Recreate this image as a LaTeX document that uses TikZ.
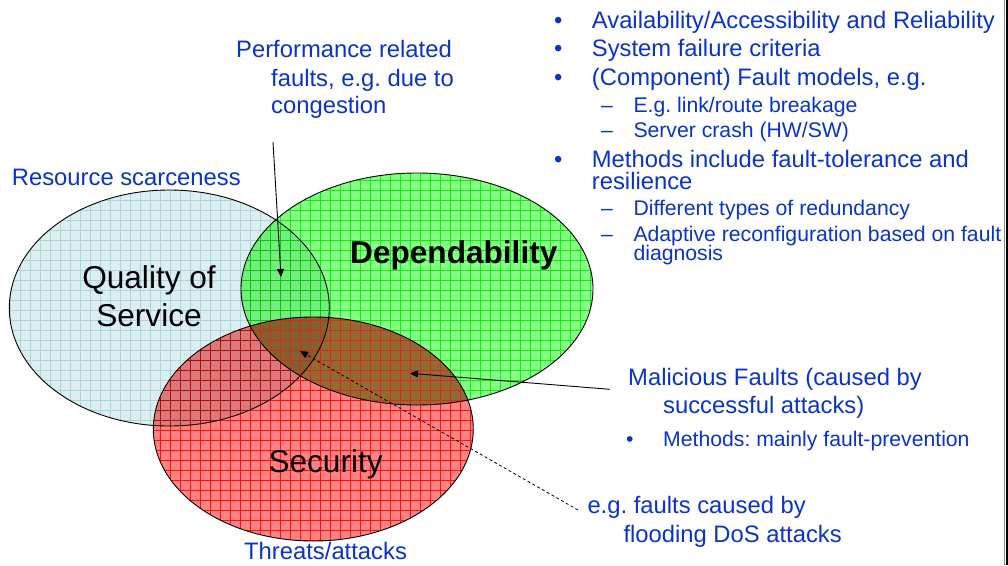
\documentclass[tikz,border=0pt]{standalone}
\usepackage{fontspec}
\setmainfont{Liberation Sans}
\usetikzlibrary{arrows.meta}

\definecolor{txtblue}{RGB}{10,50,205}
\definecolor{qosfill}{RGB}{220,238,240}
\definecolor{qosgrid}{RGB}{198,229,233}
\definecolor{depfill}{RGB}{132,255,132}
\definecolor{depgrid}{RGB}{40,235,40}
\definecolor{secfill}{RGB}{255,130,130}
\definecolor{secgrid}{RGB}{255,35,35}
\definecolor{brownfill}{RGB}{146,106,50}
\definecolor{browndark}{RGB}{132,96,46}
\definecolor{browngrid}{RGB}{210,45,30}

\tikzset{
  main/.style={text=txtblue, inner sep=0pt, anchor=base west,
    font=\fontsize{23.8pt}{28pt}\selectfont},
  subtxt/.style={text=txtblue, inner sep=0pt, anchor=base west,
    font=\fontsize{21.2pt}{25pt}\selectfont},
  big/.style={text=black, inner sep=0pt, anchor=base west,
    font=\fontsize{31.6pt}{38pt}\selectfont},
  outline/.style={draw=black, line width=0.9pt},
  conn/.style={draw=black, line width=0.9pt,
    -{Triangle[length=8pt,width=7pt]}},
  dashconn/.style={draw=black, line width=0.8pt, dash pattern=on 3pt off 2.5pt,
    -{Triangle[length=8pt,width=7pt]}},
  gridlines/.style={line width=0.75pt},
  qosshape/.style={x radius=160pt, y radius=118pt},
  depshape/.style={x radius=176pt, y radius=116pt},
  secshape/.style={x radius=160pt, y radius=112pt}
}

\begin{document}
\frenchspacing
\begin{tikzpicture}[x=1pt,y=-1pt]
\useasboundingbox (0,0) rectangle (1008,565);
\fill[white] (0,0) rectangle (1008,565);

% ellipse centres
\coordinate (qosc) at (169.3,308);
\coordinate (depc) at (417,289);
\coordinate (secc) at (313.3,429);

% the three overlapping areas, blended so that overlaps darken
\begin{scope}[blend mode=multiply]
  % Quality of Service
  \begin{scope}
    \clip (qosc) ellipse [qosshape];
    \fill[qosfill] (0,180) rectangle (340,440);
    \draw[qosgrid, gridlines, step=10pt] (0,180) grid (340,440);
  \end{scope}
  % Dependability
  \begin{scope}
    \clip (depc) ellipse [depshape];
    \fill[depfill] (230,160) rectangle (600,410);
    \draw[depgrid, gridlines, step=10pt] (230,160) grid (600,410);
  \end{scope}
  % Security
  \begin{scope}
    \clip (secc) ellipse [secshape];
    \fill[secfill] (150,310) rectangle (480,545);
    \draw[secgrid, gridlines, step=10pt] (150,310) grid (480,545);
  \end{scope}
\end{scope}

% Dependability / Security overlap in brown
\begin{scope}
  \clip (depc) ellipse [depshape];
  \clip (secc) ellipse [secshape];
  \fill[brownfill] (230,310) rectangle (480,410);
  \begin{scope}
    \clip (qosc) ellipse [qosshape];
    \fill[browndark] (230,310) rectangle (480,410);
  \end{scope}
  \draw[browngrid, gridlines, step=10pt] (150,310) grid (480,545);
\end{scope}

% outlines
\draw[outline] (qosc) ellipse [qosshape];
\draw[outline] (depc) ellipse [depshape];
\draw[outline] (secc) ellipse [secshape];

% area labels
\node[big, anchor=base] (qos1) at (149,288) {Quality of};
\node[big, anchor=base] (qos2) at (149,326) {Service};
\node[big, font=\fontsize{31.6pt}{38pt}\selectfont\bfseries] (dep) at (350,263.5) {Dependability};
\node[big] (sec) at (268.3,472.3) {Security};

% side labels
\node[main] (res) at (11.7,185.5) {Resource scarceness};
\node[main] (thr) at (244,559.3) {Threats/attacks};

\node[main] (perf1) at (236,57.5) {Performance related};
\node[main] (perf2) at (271,86) {faults, e.g. due to};
\node[main] (perf3) at (271,113.3) {congestion};

% dependability bullet list
\node[main] (bl1) at (554,28) {•};
\node[main] (l1) at (591.7,28) {Availability/Accessibility and Reliability};
\node[main] (bl2) at (554,56.5) {•};
\node[main] (l2) at (591.7,56.5) {System failure criteria};
\node[main] (bl3) at (554,85) {•};
\node[main] (l3) at (591.7,85) {(Component) Fault models, e.g.};
\node[subtxt] (d1) at (601,112) {–};
\node[subtxt] (s1) at (633.3,112) {E.g. link/route breakage};
\node[subtxt] (d2) at (601,137) {–};
\node[subtxt] (s2) at (633.3,137) {Server crash (HW/SW)};
\node[main] (bl4) at (554,167) {•};
\node[main] (l4) at (591.7,167) {Methods include fault-tolerance and};
\node[main] (l5) at (591.7,189.5) {resilience};
\node[subtxt] (d3) at (601,215) {–};
\node[subtxt] (s3) at (633.3,215) {Different types of redundancy};
\node[subtxt] (d4) at (601,241) {–};
\node[subtxt] (s4) at (633.3,241) {Adaptive reconfiguration based on fault};
\node[subtxt] (s5) at (633.3,260.5) {diagnosis};

% malicious faults block
\node[main] (mal1) at (628,385.7) {Malicious Faults (caused by};
\node[main] (mal2) at (663,413) {successful attacks)};
\node[subtxt] (mb) at (626,446) {•};
\node[subtxt] (mal3) at (663,446) {Methods: mainly fault-prevention};

% flooding block
\node[main] (dos1) at (587.3,513) {e.g. faults caused by};
\node[main] (dos2) at (623.3,542.5) {flooding DoS attacks};

% connectors
\coordinate (perfstart) at (273,142);
\coordinate (perftip) at (281,277);
\coordinate (malstart) at (610,389.3);
\coordinate (maltip) at (410,373.3);
\coordinate (dosstart) at (578,510);
\coordinate (dostip) at (300,351);
\draw[conn] (perfstart) -- (perftip);
\draw[conn] (malstart) -- (maltip);
\draw[dashconn] (dosstart) -- (dostip);

% frame edge on the right
\draw[black!45, line width=1pt] (1004.5,0) -- (1004.5,565);
\draw[black, line width=2.3pt] (1006.85,0) -- (1006.85,565);
\end{tikzpicture}
\end{document}
